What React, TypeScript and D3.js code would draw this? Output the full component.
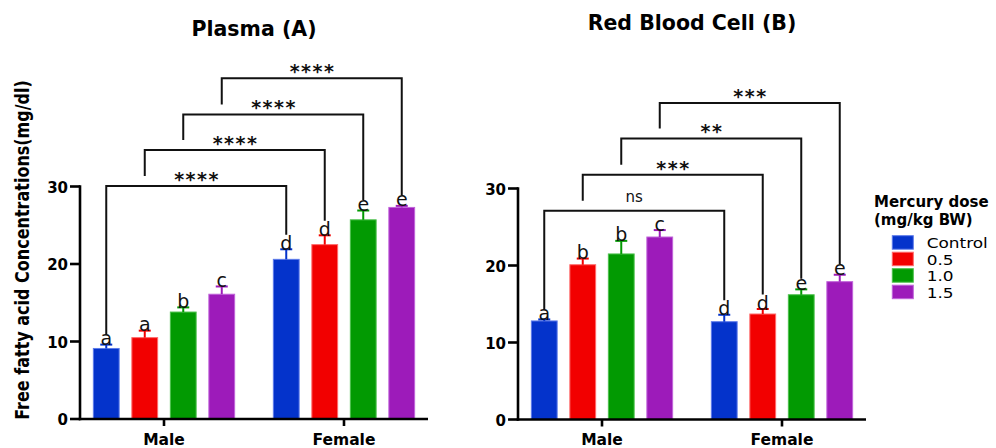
import React from "react";
import * as d3 from "d3";

const groups = ["Male", "Female"];
const doses = ["Control", "0.5", "1.0", "1.5"];
const doseColors = ["#0433CB", "#F20000", "#029A02", "#9D1BBA"];
const doseEdge = ["#5D7BEA", "#FF6A6A", "#4CC04C", "#C064DA"];
const yTicks = [0, 10, 20, 30];

const plasmaMaleMean = [9.1, 10.5, 13.8, 16.1];
const plasmaMaleSD = [0.5, 0.9, 0.6, 1.0];
const plasmaFemaleMean = [20.6, 22.5, 25.7, 27.3];
const plasmaFemaleSD = [1.3, 1.2, 1.2, 0.2];
const plasmaMaleLetters = ["a", "a", "b", "c"];
const plasmaFemaleLetters = ["d", "d", "e", "e"];
const plasmaSig = ["****", "****", "****", "****"];
const plasmaBracketLevels = [30.06, 34.7, 39.3, 43.96];

const rbcMaleMean = [12.8, 20.1, 21.5, 23.7];
const rbcMaleSD = [0.2, 0.8, 1.7, 0.9];
const rbcFemaleMean = [12.7, 13.7, 16.2, 17.9];
const rbcFemaleSD = [0.9, 0.65, 0.7, 0.9];
const rbcMaleLetters = ["a", "b", "b", "c"];
const rbcFemaleLetters = ["d", "d", "e", "e"];
const rbcSig = ["ns", "***", "**", "***"];
const rbcBracketLevels = [27.1, 31.8, 36.5, 41.1];

const BOLD = "'DejaVu Sans', sans-serif";

type PanelProps = {
  title: string;
  titleY: number;
  axisX: number;
  endX: number;
  y0: number;
  y30: number;
  maleMean: number[];
  maleSD: number[];
  femaleMean: number[];
  femaleSD: number[];
  maleLetters: string[];
  femaleLetters: string[];
  sig: string[];
  levels: number[];
};

const letterHeight = (l: string) => (l === "b" || l === "d" ? 14.5 : 10.5);

function Panel(p: PanelProps) {
  const y = d3.scaleLinear().domain([0, 30]).range([p.y0, p.y30]);
  const gx = d3.scalePoint<string>().domain(groups).range([p.axisX, p.endX]).padding(0.4667);
  const bx = d3.scaleBand<string>().domain(doses).range([-77, 77]).paddingInner(0.33).paddingOuter(0.165);
  const bw = bx.bandwidth();
  const data = [
    { g: "Male", mean: p.maleMean, sd: p.maleSD, letters: p.maleLetters },
    { g: "Female", mean: p.femaleMean, sd: p.femaleSD, letters: p.femaleLetters },
  ];
  const cx = (g: string, d: string) => (gx(g) as number) + (bx(d) as number) + bw / 2;
  const letterTop = (gi: number, di: number) =>
    y(data[gi].mean[di] + data[gi].sd[di]) - letterHeight(data[gi].letters[di]);

  return (
    <g>
      <text
        x={(p.axisX + p.endX) / 2}
        y={p.titleY}
        textAnchor="middle"
        fontFamily={BOLD}
        fontWeight="bold"
        fontSize={20.5}
      >
        {p.title}
      </text>
      {data.map((grp, gi) =>
        doses.map((d, di) => {
          const m = grp.mean[di];
          const top = m + grp.sd[di];
          const c = cx(grp.g, d);
          return (
            <g key={grp.g + d}>
              <rect
                x={c - bw / 2}
                y={y(m)}
                width={bw}
                height={y(0) - y(m)}
                fill={doseColors[di]}
                stroke={doseEdge[di]}
                strokeWidth={1}
              />
              <line x1={c} x2={c} y1={y(m)} y2={y(top)} stroke={doseColors[di]} strokeWidth={2} />
              <line x1={c - 6} x2={c + 6} y1={y(top)} y2={y(top)} stroke={doseColors[di]} strokeWidth={2} />
              <text
                x={c}
                y={y(top) + 0.5}
                textAnchor="middle"
                fontFamily={BOLD}
                fontSize={19}
                fill="#111"
              >
                {grp.letters[di]}
              </text>
            </g>
          );
        })
      )}
      {doses.map((d, i) => {
        const lx = cx("Male", d);
        const rx = cx("Female", d);
        const ly = y(p.levels[i]);
        const leftEnd = i === 0 ? letterTop(0, i) : y(p.levels[i - 1]) - 10;
        const rightEnd = letterTop(1, i);
        const isNs = p.sig[i] === "ns";
        return (
          <g key={"br" + d}>
            <path
              d={`M${lx},${leftEnd}V${ly}H${rx}V${rightEnd}`}
              fill="none"
              stroke="#111"
              strokeWidth={2}
            />
            {isNs ? (
              <text
                x={(lx + rx) / 2}
                y={ly - 8.5}
                textAnchor="middle"
                fontFamily={BOLD}
                fontSize={15}
                fill="#111"
              >
                {p.sig[i]}
              </text>
            ) : (
              <text
                x={(lx + rx) / 2 + 0.75}
                y={ly}
                textAnchor="middle"
                fontFamily={BOLD}
                fontWeight="bold"
                fontSize={19}
                letterSpacing={1.5}
                fill="#111"
              >
                {p.sig[i]}
              </text>
            )}
          </g>
        );
      })}
      <line x1={p.axisX} x2={p.axisX} y1={y(30) - 1.25} y2={y(0) + 1.25} stroke="#000" strokeWidth={2.6} />
      <line x1={p.axisX - 1.25} x2={p.endX} y1={y(0)} y2={y(0)} stroke="#000" strokeWidth={2.6} />
      {yTicks.map((t) => (
        <g key={"yt" + t}>
          <line x1={p.axisX - 10} x2={p.axisX} y1={y(t)} y2={y(t)} stroke="#000" strokeWidth={2.6} />
          <text
            x={p.axisX - 12}
            y={y(t) + 6}
            textAnchor="end"
            fontFamily={BOLD}
            fontWeight="bold"
            fontSize={15}
          >
            {t}
          </text>
        </g>
      ))}
      {groups.map((g) => (
        <g key={"xt" + g}>
          <line x1={gx(g)} x2={gx(g)} y1={y(0)} y2={y(0) + 7} stroke="#000" strokeWidth={2.6} />
          <text
            x={gx(g)}
            y={444.5}
            textAnchor="middle"
            fontFamily={BOLD}
            fontWeight="bold"
            fontSize={15.5}
          >
            {g}
          </text>
        </g>
      ))}
    </g>
  );
}

export default function App() {
  return (
    <svg
      width={996}
      height={448}
      style={{ position: "absolute", left: 0, top: 0, background: "#fff" }}
    >
      <rect width={996} height={448} fill="#fff" />
      <Panel
        title="Plasma (A)"
        titleY={36}
        axisX={80}
        endX={428}
        y0={419}
        y30={186.5}
        maleMean={plasmaMaleMean}
        maleSD={plasmaMaleSD}
        femaleMean={plasmaFemaleMean}
        femaleSD={plasmaFemaleSD}
        maleLetters={plasmaMaleLetters}
        femaleLetters={plasmaFemaleLetters}
        sig={plasmaSig}
        levels={plasmaBracketLevels}
      />
      <Panel
        title="Red Blood Cell (B)"
        titleY={30}
        axisX={518}
        endX={866}
        y0={419.5}
        y30={188.5}
        maleMean={rbcMaleMean}
        maleSD={rbcMaleSD}
        femaleMean={rbcFemaleMean}
        femaleSD={rbcFemaleSD}
        maleLetters={rbcMaleLetters}
        femaleLetters={rbcFemaleLetters}
        sig={rbcSig}
        levels={rbcBracketLevels}
      />
      <text
        transform="translate(29,250) rotate(-90) scale(1,1.25)"
        textAnchor="middle"
        fontFamily={BOLD}
        fontWeight="bold"
        fontSize={16}
      >
        Free fatty acid Concentrations(mg/dl)
      </text>
      <g fontFamily={BOLD}>
        <text x={874} y={207.3} fontWeight="bold" fontSize={15}>
          Mercury dose
        </text>
        <text x={874} y={225} fontWeight="bold" fontSize={15}>
          (mg/kg BW)
        </text>
        {doses.map((d, i) => (
          <g key={"lg" + d}>
            <rect
              x={892.3}
              y={235.7 + i * 16.5}
              width={21}
              height={13.5}
              fill={doseColors[i]}
              stroke={doseEdge[i]}
              strokeWidth={1}
            />
            <text
              transform={`translate(926.7,${248 + i * 16.5}) scale(1.2,1)`}
              fontSize={14.1}
            >
              {d}
            </text>
          </g>
        ))}
      </g>
    </svg>
  );
}
